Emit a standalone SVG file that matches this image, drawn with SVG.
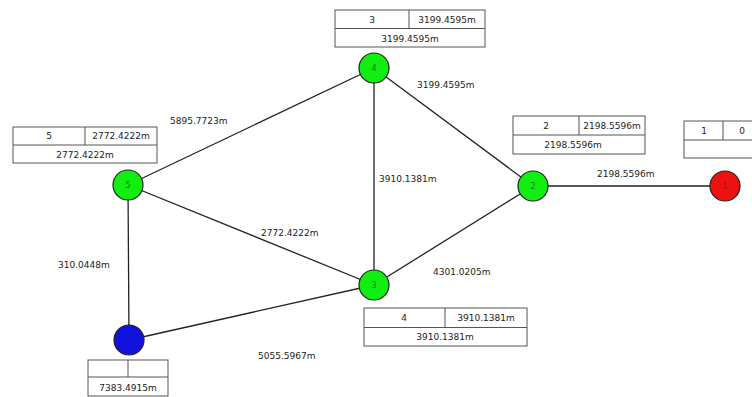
<svg xmlns="http://www.w3.org/2000/svg" width="752" height="397" viewBox="0 0 752 397">
<style>
.bg{fill:#fff}
.e{stroke:#222;stroke-width:1.3;fill:none}
.t{font-family:"DejaVu Sans",sans-serif;font-size:9px;fill:#222}
.tb{fill:#fff;stroke:#555;stroke-width:1}
.n{stroke:#222;stroke-width:1.2}
.g{fill:#11ee11}
.nl{font-family:"DejaVu Sans",sans-serif;font-size:8px;text-anchor:middle;dominant-baseline:central}
.c{text-anchor:middle}
</style>
<rect class="bg" width="752" height="397"/>
<g id="connectors">
<line class="e" x1="374" y1="68" x2="128" y2="185"/>
<line class="e" x1="374" y1="68" x2="533" y2="186"/>
<line class="e" x1="374" y1="68" x2="374" y2="285"/>
<line class="e" x1="128" y1="185" x2="374" y2="285"/>
<line class="e" x1="128" y1="185" x2="129" y2="340"/>
<line class="e" x1="129" y1="340" x2="374" y2="285"/>
<line class="e" x1="374" y1="285" x2="533" y2="186"/>
<line class="e" x1="533" y1="186" x2="725" y2="186"/>
<text class="t" x="170" y="124">5895.7723m</text>
<text class="t" x="417" y="88">3199.4595m</text>
<text class="t" x="379" y="182">3910.1381m</text>
<text class="t" x="597" y="177">2198.5596m</text>
<text class="t" x="261" y="236">2772.4222m</text>
<text class="t" x="58" y="268">310.0448m</text>
<text class="t" x="433" y="275">4301.0205m</text>
<text class="t" x="258" y="359">5055.5967m</text>
</g>
<g id="node4">
<circle class="n g" cx="374" cy="68" r="15"/>
<text class="nl" x="374" y="68" fill="#1a7a1a">4</text>
<rect class="tb" x="335" y="10" width="150" height="37"/>
<line class="tb" x1="335" y1="28.5" x2="485" y2="28.5"/>
<line class="tb" x1="409" y1="10" x2="409" y2="28.5"/>
<text class="t c" x="372" y="23">3</text>
<text class="t c" x="447" y="23">3199.4595m</text>
<text class="t c" x="410" y="42">3199.4595m</text>
</g>
<g id="node5">
<circle class="n g" cx="128" cy="185" r="15"/>
<text class="nl" x="128" y="185" fill="#1a7a1a">5</text>
<rect class="tb" x="13" y="127" width="144" height="36"/>
<line class="tb" x1="13" y1="145" x2="157" y2="145"/>
<line class="tb" x1="85" y1="127" x2="85" y2="145"/>
<text class="t c" x="49" y="139">5</text>
<text class="t c" x="121" y="139">2772.4222m</text>
<text class="t c" x="85" y="158">2772.4222m</text>
</g>
<g id="node2">
<circle class="n g" cx="533" cy="186" r="15"/>
<text class="nl" x="533" y="186" fill="#1a7a1a">2</text>
<rect class="tb" x="513" y="116" width="132" height="38"/>
<line class="tb" x1="513" y1="135" x2="645" y2="135"/>
<line class="tb" x1="579" y1="116" x2="579" y2="135"/>
<text class="t c" x="546" y="129">2</text>
<text class="t c" x="612" y="129">2198.5596m</text>
<text class="t c" x="573" y="148">2198.5596m</text>
</g>
<g id="node1">
<circle class="n" cx="725" cy="186" r="15" fill="#ee1111"/>
<text class="nl" x="725" y="186" fill="#a01010">1</text>
<rect class="tb" x="684" y="121" width="80" height="37"/>
<line class="tb" x1="684" y1="140" x2="764" y2="140"/>
<line class="tb" x1="723" y1="121" x2="723" y2="140"/>
<text class="t c" x="704" y="134">1</text>
<text class="t c" x="742" y="134">0</text>
</g>
<g id="node3">
<circle class="n g" cx="374" cy="285" r="15"/>
<text class="nl" x="374" y="285" fill="#1a7a1a">3</text>
<rect class="tb" x="364" y="308" width="163" height="38"/>
<line class="tb" x1="364" y1="327.5" x2="527" y2="327.5"/>
<line class="tb" x1="445" y1="308" x2="445" y2="327.5"/>
<text class="t c" x="404" y="321">4</text>
<text class="t c" x="486" y="321">3910.1381m</text>
<text class="t c" x="445" y="340">3910.1381m</text>
</g>
<g id="node6">
<circle class="n" cx="129" cy="340" r="15" fill="#1111dd"/>
<rect class="tb" x="88" y="360" width="80" height="36"/>
<line class="tb" x1="88" y1="377" x2="168" y2="377"/>
<line class="tb" x1="128" y1="360" x2="128" y2="377"/>
<text class="t c" x="128" y="391">7383.4915m</text>
</g>
</svg>
